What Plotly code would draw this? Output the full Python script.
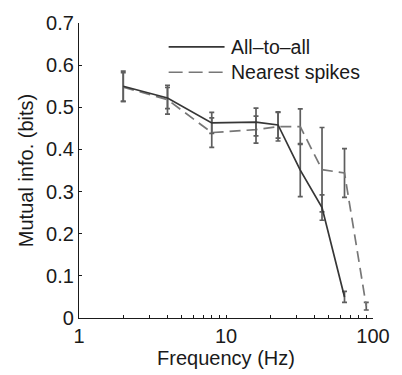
import plotly.graph_objects as go

# Data
freq_all = [2, 4, 8, 16, 22.6, 32, 45, 64]
mi_all = [0.550, 0.522, 0.463, 0.465, 0.458, 0.351, 0.262, 0.050]
err_all = [0.036, 0.025, 0.025, 0.033, 0.031, 0.063, 0.030, 0.013]

freq_near = [2, 4, 8, 16, 22.6, 32, 45, 64, 90]
mi_near = [0.548, 0.518, 0.440, 0.447, 0.454, 0.454, 0.352, 0.344, 0.028]
err_near = [0.034, 0.034, 0.035, 0.032, 0.034, 0.042, 0.100, 0.058, 0.009]

x_tickvals = [1, 2, 3, 4, 5, 6, 7, 8, 9, 10, 20, 30, 40, 50, 60, 70, 80, 90, 100]
x_ticktext = ["1", "", "", "", "", "", "", "", "", "10", "", "", "", "", "", "", "", "", "100"]
y_tickvals = [0, 0.1, 0.2, 0.3, 0.4, 0.5, 0.6, 0.7]
y_ticktext = ["0", "0.1", "0.2", "0.3", "0.4", "0.5", "0.6", "0.7"]

series_names = ["All\u2013to\u2013all", "Nearest spikes"]

FONT = "Liberation Sans, Arial, Helvetica, sans-serif"
FS_TICK = 20
FS_TITLE = 20
FS_LEG = 19.5
C_ALL = "#363636"
C_NEAR = "#777777"
C_ERR = "#5e5e5e"
C_TXT = "#1a1a1a"

fig = go.Figure()
fig.add_trace(go.Scatter(
    x=freq_near, y=mi_near, mode="lines", name=series_names[1],
    line=dict(color=C_NEAR, width=1.7, dash="11px,6px"),
    error_y=dict(type="data", array=err_near, color=C_ERR, thickness=1.7, width=2.5),
    showlegend=False,
))
fig.add_trace(go.Scatter(
    x=freq_all, y=mi_all, mode="lines", name=series_names[0],
    line=dict(color=C_ALL, width=1.7),
    error_y=dict(type="data", array=err_all, color=C_ERR, thickness=1.7, width=2.5),
    showlegend=False,
))

# Legend drawn manually to match reference sample lengths
leg = [(0.919, C_ALL, "solid", series_names[0]), (0.833, C_NEAR, "14px,6px", series_names[1])]
x0p, x1p, xt = (172 - 79) / 305, (230 - 79) / 305, (235 - 79) / 305
for yy, col, dash, name in leg:
    fig.add_shape(type="line", xref="paper", yref="paper", x0=x0p, x1=x1p, y0=yy, y1=yy,
                  line=dict(color=col, width=1.7, dash=dash))
    fig.add_annotation(xref="paper", yref="paper", x=xt, y=yy, text=name, showarrow=False,
                       xanchor="left", yanchor="middle", font=dict(size=FS_LEG, color=C_TXT, family=FONT))

fig.update_layout(
    width=402, height=375,
    margin=dict(l=79, r=18, t=15, b=53),
    paper_bgcolor="white", plot_bgcolor="white",
    font=dict(family=FONT, size=FS_TICK, color=C_TXT),
)
fig.update_xaxes(
    type="log", range=[0, 2], tickvals=x_tickvals, ticktext=x_ticktext,
    ticks="inside", ticklen=3, tickwidth=1.2, tickcolor=C_TXT,
    showline=True, linecolor=C_TXT, linewidth=1.2, showgrid=False, zeroline=False,
    title=dict(text="Frequency (Hz)", standoff=2, font=dict(size=FS_TITLE, family=FONT, color=C_TXT)),
    tickfont=dict(size=FS_TICK), ticklabelstandoff=0,
)
fig.update_yaxes(
    range=[0, 0.7], tickvals=y_tickvals, ticktext=y_ticktext,
    ticks="inside", ticklen=3, tickwidth=1.2, tickcolor=C_TXT,
    showline=True, linecolor=C_TXT, linewidth=1.2, showgrid=False, zeroline=False,
    title=dict(text="Mutual info. (bits)", standoff=7, font=dict(size=FS_TITLE, family=FONT, color=C_TXT)),
    tickfont=dict(size=FS_TICK),
)

fig.write_html("out.html")
